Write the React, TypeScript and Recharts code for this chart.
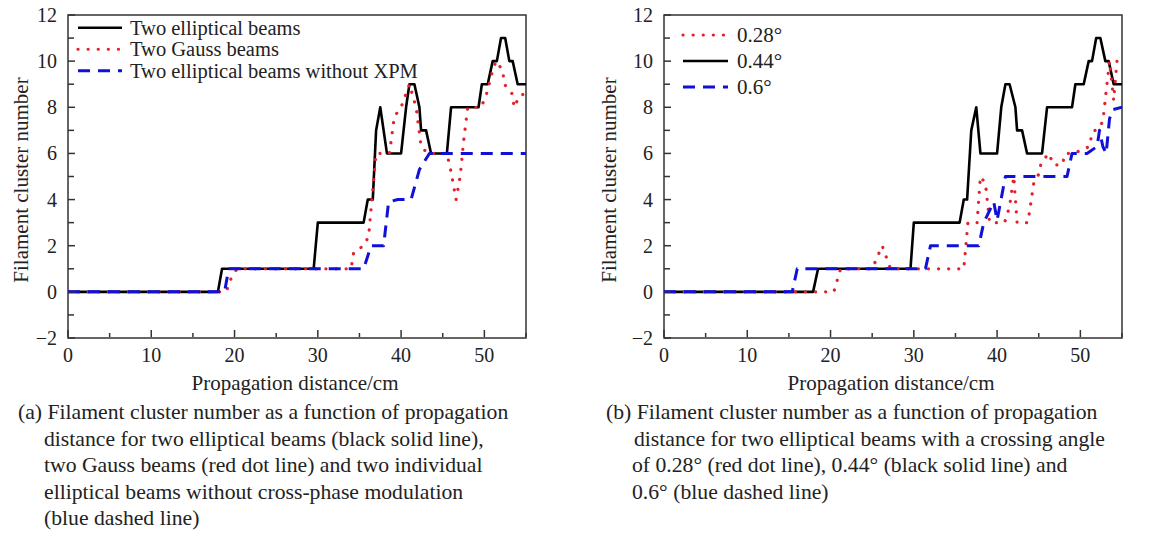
import React from "react";
import { LineChart, Line, XAxis, YAxis, ReferenceArea, Legend } from "recharts";

// ---------- data ----------
const xTicks = [0, 5, 10, 15, 20, 25, 30, 35, 40, 45, 50, 55];
const yTicks = [-2, -1, 0, 1, 2, 3, 4, 5, 6, 7, 8, 9, 10, 11, 12];

// (a) two elliptical beams (black solid)
const aEllX = [0, 18, 18.5, 29.5, 30, 35.5, 36, 36.6, 37, 37.5, 38.3, 40, 40.6, 41, 41.6, 42.2, 42.4, 43, 43.6, 45.5, 46, 49.3, 49.7, 50.4, 51, 51.5, 52, 52.5, 53, 53.4, 54, 55];
const aEllY = [0, 0, 1, 1, 3, 3, 4, 4, 7, 8, 6, 6, 8, 9, 9, 8, 7, 7, 6, 6, 8, 8, 9, 9, 10, 10, 11, 11, 10, 10, 9, 9];
// (a) two Gauss beams (red dots)
const aGaussX = [0, 19, 19.6, 20.3, 34, 34.3, 35.5, 36.1, 36.5, 37, 38.6, 39.2, 40, 41, 41.8, 42.4, 43.2, 45.5, 46, 46.6, 47.1, 47.5, 48, 49.6, 50.2, 51, 51.4, 52.2, 52.4, 53.3, 53.6, 54.2, 55];
const aGaussY = [0, 0, 0.6, 1, 1, 1.7, 2, 2.4, 4, 6, 6, 7.6, 8, 9, 8, 6.3, 6, 6, 5.2, 4, 5, 6.5, 8, 8, 8.5, 9.6, 10, 9.6, 9, 8.6, 8, 8.5, 8.6];
// (a) two elliptical beams without XPM (blue dashed)
const aNoXpmX = [0, 18.8, 19.3, 35.5, 36.4, 37.9, 38.5, 39.6, 41.2, 42.2, 43.4, 55];
const aNoXpmY = [0, 0, 1, 1, 2, 2, 3.9, 4, 4, 5.3, 6, 6];

// (b) 0.28 deg (red dots)
const b028X = [0, 20.4, 21.2, 25, 26.2, 27.2, 36, 36.5, 37.6, 38, 38.6, 39.1, 40.9, 41.5, 42, 42.4, 43.7, 44.4, 45, 45.3, 46.2, 46.8, 47.8, 48.2, 49.2, 51.1, 51.4, 52.5, 52.8, 53.5, 54, 54.4, 55];
const b028Y = [0, 0, 1, 1, 2, 1, 1, 3, 3, 5, 4.7, 3, 3, 3.7, 5, 3, 3, 4.7, 5.1, 5.6, 6, 5.5, 5.5, 6, 6, 6.3, 6.9, 7.2, 7.7, 10, 8.3, 10, 10];
// (b) 0.44 deg (black solid)
const b044X = [0, 17.9, 18.5, 29.6, 30, 35.5, 36, 36.4, 36.9, 37.5, 38, 40, 40.5, 41, 41.5, 42.2, 42.4, 43, 43.6, 45.4, 46, 49, 49.4, 50.4, 51, 51.4, 51.9, 52.4, 53, 53.4, 54, 55];
const b044Y = [0, 0, 1, 1, 3, 3, 4, 4, 7, 8, 6, 6, 8, 9, 9, 8, 7, 7, 6, 6, 8, 8, 9, 9, 10, 10, 11, 11, 10, 10, 9, 9];
// (b) 0.6 deg (blue dashed)
const b06X = [0, 15.4, 16, 31.4, 32, 37.8, 38.4, 39.6, 40, 41, 48.4, 49, 50.8, 52, 52.3, 52.7, 53.1, 53.5, 53.9, 55];
const b06Y = [0, 0, 1, 1, 2, 2, 3, 3.9, 3.1, 5, 5, 6, 6, 6.3, 7, 6.3, 6, 7.5, 7.9, 8];

const zip = (xs: number[], ys: number[]) => xs.map((x, i) => ({ x, y: ys[i] }));

const captionA = [
  "(a) Filament cluster number as a function of propagation",
  "distance for two elliptical beams (black solid line),",
  "two Gauss beams (red dot line) and two individual",
  "elliptical beams without cross-phase modulation",
  "(blue dashed line)",
];
const captionB = [
  "(b) Filament cluster number as a function of propagation",
  "distance for two elliptical beams with a crossing angle",
  "of 0.28° (red dot line), 0.44° (black solid line) and",
  "0.6° (blue dashed line)",
];

// ---------- styles ----------
const FONT = '"Liberation Serif", "Times New Roman", serif';
const BLACK = "#000000";
const RED = "#e3202b";
const BLUE = "#1010d8";
const AXIS = "#333333";

const styleSolid = { stroke: BLACK, strokeWidth: 2.6 };
const styleDot = { stroke: RED, strokeWidth: 3.2, strokeDasharray: "0.1 10", strokeLinecap: "round" as const };
const styleDash = { stroke: BLUE, strokeWidth: 3, strokeDasharray: "12 8" };

const fmt = (v: number) => (v < 0 ? `\u2212${-v}` : `${v}`);

const renderXTick = (props: any) => {
  const { x, y, payload } = props;
  const v = payload.value;
  const major = v % 10 === 0;
  const y0 = y - 1;
  return (
    <g key={`xt-${v}`}>
      <line x1={x} x2={x} y1={y0} y2={y0 - (major ? 7 : 4)} stroke={AXIS} strokeWidth={1.5} />
      {major && (
        <text x={x} y={y0 + 25} textAnchor="middle" fontFamily={FONT} fontSize={20} fill="#222">
          {fmt(v)}
        </text>
      )}
    </g>
  );
};

const renderYTick = (props: any) => {
  const { x, y, payload } = props;
  const v = payload.value;
  const major = Math.abs(v) % 2 === 0;
  return (
    <g key={`yt-${v}`}>
      <line x1={x} x2={x + (major ? 7 : 6)} y1={y} y2={y} stroke={AXIS} strokeWidth={1.5} />
      {major && (
        <text x={x - 11} y={y} dy="0.35em" textAnchor="end" fontFamily={FONT} fontSize={20} fill="#222">
          {fmt(v)}
        </text>
      )}
    </g>
  );
};

type LegendRow = { label: string; style: any };

const makeLegend = (rows: LegendRow[], rowH: number, lineLen: number, textX: number, fs: number) => () => (
  <svg width={330} height={rows.length * rowH + 6} style={{ overflow: "visible" }}>
    {rows.map((r, i) => {
      const cy = rowH / 2 + 2 + i * rowH;
      return (
        <g key={i}>
          <line x1={4} x2={4 + lineLen} y1={cy} y2={cy} {...r.style} fill="none" />
          <text x={textX} y={cy} dy="0.35em" fontFamily={FONT} fontSize={fs} fill="#222">
            {r.label}
          </text>
        </g>
      );
    })}
  </svg>
);

const legendA = makeLegend(
  [
    { label: "Two elliptical beams", style: styleSolid },
    { label: "Two Gauss beams", style: styleDot },
    { label: "Two elliptical beams without XPM", style: styleDash },
  ],
  21.5,
  44,
  56,
  20.5
);

const legendB = makeLegend(
  [
    { label: "0.28°", style: styleDot },
    { label: "0.44°", style: styleSolid },
    { label: "0.6°", style: styleDash },
  ],
  26,
  45,
  58,
  21
);

type Series = { name: string; data: { x: number; y: number }[]; style: any };

const Panel = ({ series, legend, legendPos, width }: { series: Series[]; legend: any; legendPos: { left: number; top: number }; width: number }) => (
  <LineChart width={width} height={400} margin={{ top: 15, left: 67, right: width - 68 - 458, bottom: 61 }}>
    <XAxis
      type="number"
      dataKey="x"
      domain={[0, 55]}
      ticks={xTicks}
      interval={0}
      allowDataOverflow
      height={1}
      tickSize={0}
      tickMargin={0}
      axisLine={false}
      tickLine={false}
      tick={renderXTick}
    />
    <YAxis
      type="number"
      dataKey="y"
      domain={[-2, 12]}
      ticks={yTicks}
      interval={0}
      allowDataOverflow
      width={1}
      tickSize={0}
      tickMargin={0}
      axisLine={false}
      tickLine={false}
      tick={renderYTick}
    />
    {series.map((s) => (
      <Line
        key={s.name}
        name={s.name}
        data={s.data}
        dataKey="y"
        type="linear"
        dot={false}
        activeDot={false}
        isAnimationActive={false}
        strokeLinejoin="round"
        {...s.style}
      />
    ))}
    <ReferenceArea x1={0} x2={55} y1={-2} y2={12} fill="none" fillOpacity={0} stroke={AXIS} strokeWidth={1.5} ifOverflow="visible" />
    <Legend
      layout="horizontal"
      verticalAlign="middle"
      align="center"
      content={legend}
      wrapperStyle={{ left: legendPos.left, top: legendPos.top, width: 340, height: 80 }}
    />
  </LineChart>
);

const textBase: React.CSSProperties = {
  position: "absolute",
  fontFamily: FONT,
  color: "#222",
  whiteSpace: "nowrap",
  lineHeight: 1,
};

export default function App() {
  const seriesA: Series[] = [
    { name: "Two elliptical beams", data: zip(aEllX, aEllY), style: styleSolid },
    { name: "Two Gauss beams", data: zip(aGaussX, aGaussY), style: styleDot },
    { name: "Two elliptical beams without XPM", data: zip(aNoXpmX, aNoXpmY), style: styleDash },
  ];
  const seriesB: Series[] = [
    { name: "0.44°", data: zip(b044X, b044Y), style: styleSolid },
    { name: "0.28°", data: zip(b028X, b028Y), style: styleDot },
    { name: "0.6°", data: zip(b06X, b06Y), style: styleDash },
  ];

  return (
    <div style={{ position: "absolute", left: 0, top: 0, width: 1152, height: 543, background: "#fff", overflow: "hidden" }}>
      <div style={{ position: "absolute", left: 0, top: 0 }}>
        <Panel series={seriesA} legend={legendA} legendPos={{ left: 74, top: 15 }} width={560} />
      </div>
      <div style={{ position: "absolute", left: 596, top: 0 }}>
        <Panel series={seriesB} legend={legendB} legendPos={{ left: 83, top: 20 }} width={556} />
      </div>

      {/* axis titles */}
      <div style={{ ...textBase, fontSize: 21, left: 295, top: 383, transform: "translate(-50%, -50%)" }}>Propagation distance/cm</div>
      <div style={{ ...textBase, fontSize: 21, left: 891, top: 383, transform: "translate(-50%, -50%)" }}>Propagation distance/cm</div>
      <div style={{ ...textBase, fontSize: 21, left: 21, top: 180, transform: "translate(-50%, -50%) rotate(-90deg)" }}>Filament cluster number</div>
      <div style={{ ...textBase, fontSize: 21, left: 609, top: 180, transform: "translate(-50%, -50%) rotate(-90deg)" }}>Filament cluster number</div>

      {/* captions */}
      {captionA.map((t, i) => (
        <div key={"a" + i} style={{ ...textBase, fontSize: 21.7, left: i === 0 ? 18 : 44, top: 413 + i * 26.5, transform: "translateY(-50%)" }}>
          {t}
        </div>
      ))}
      {captionB.map((t, i) => (
        <div key={"b" + i} style={{ ...textBase, fontSize: 21.7, left: i === 0 ? 606 : i === 1 ? 634 : 632, top: 413 + i * 26.5, transform: "translateY(-50%)" }}>
          {t}
        </div>
      ))}
    </div>
  );
}
